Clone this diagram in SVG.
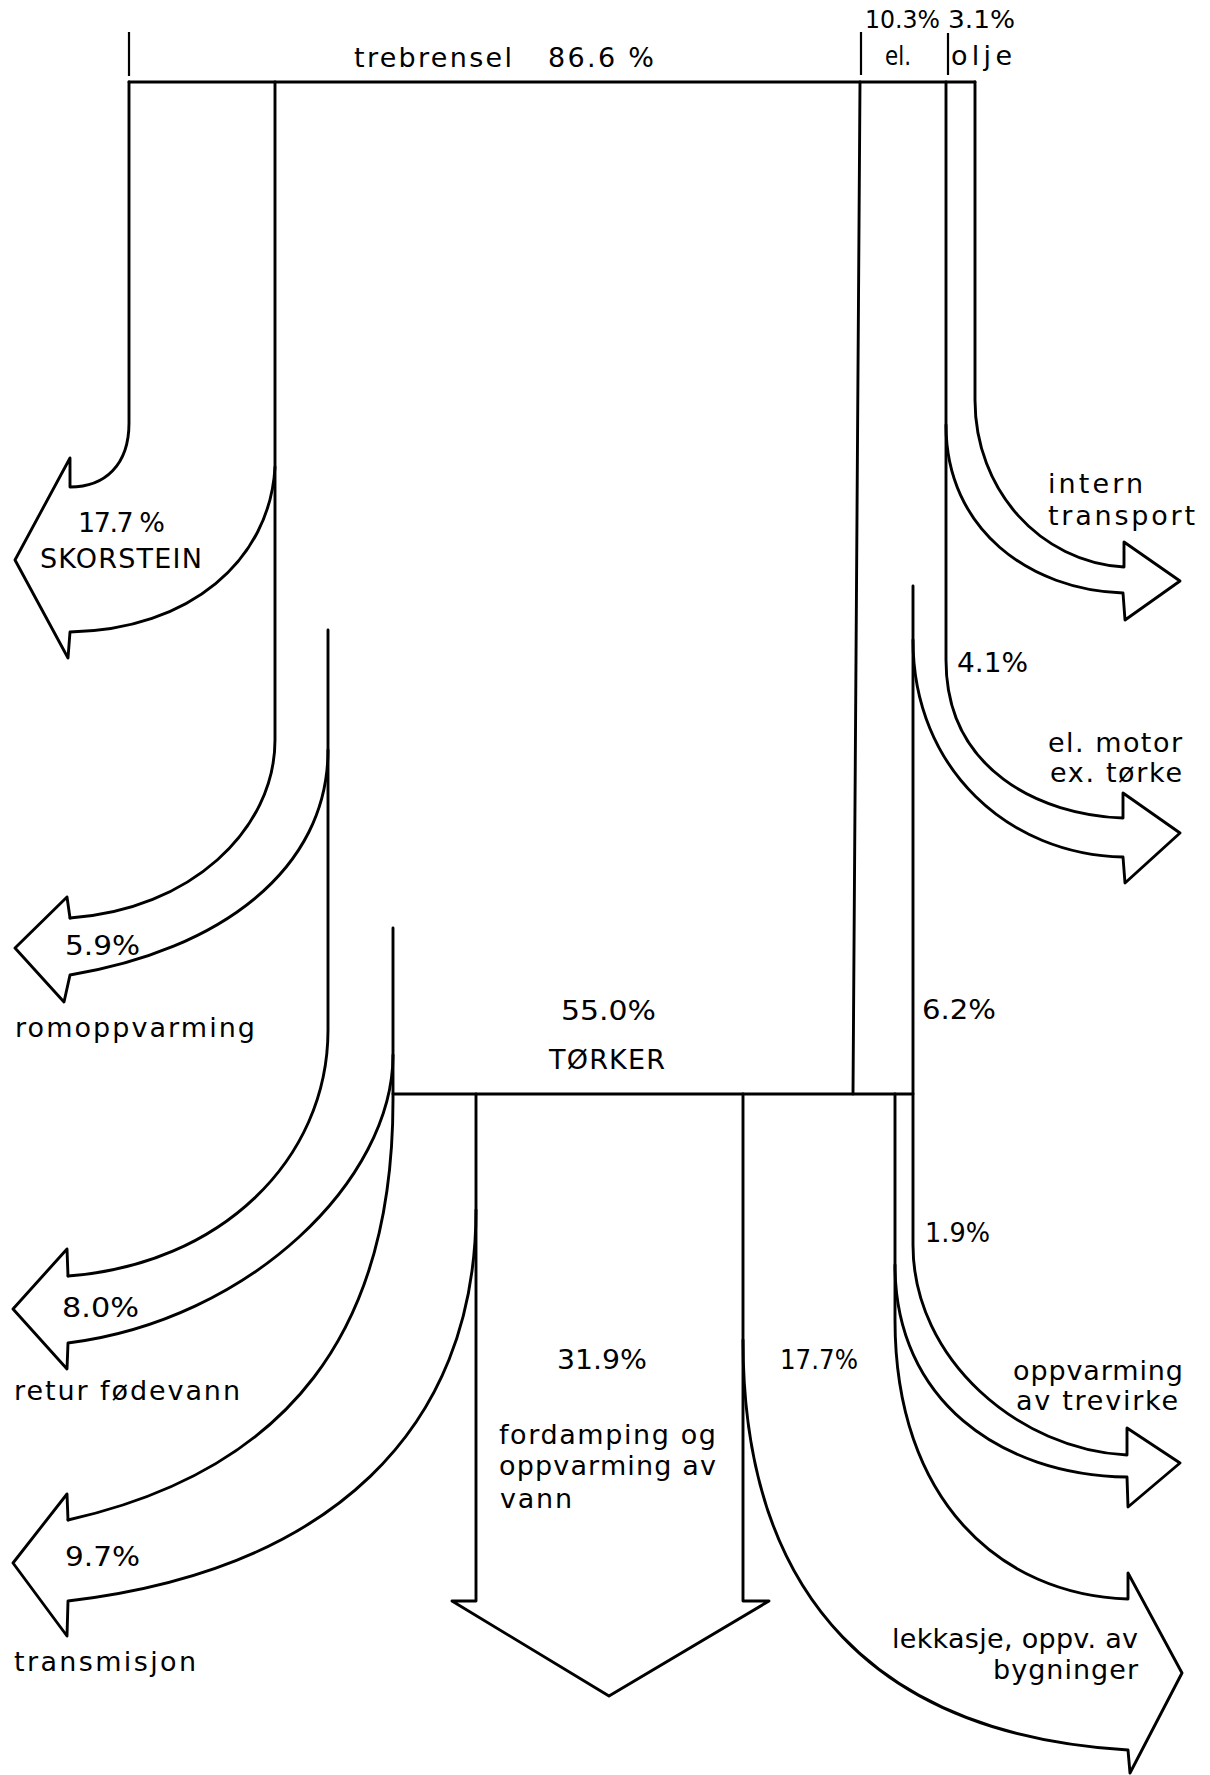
<svg xmlns="http://www.w3.org/2000/svg" width="1210" height="1775" viewBox="0 0 1210 1775">
<style>
.ln{fill:none;stroke:#000;stroke-width:2.9;stroke-linejoin:round;stroke-linecap:round}
.tk{fill:none;stroke:#000;stroke-width:2.2}
text{font-family:"DejaVu Sans","Liberation Sans",sans-serif;font-size:27px;fill:#000}
.sm{font-size:25px}
</style>
<rect width="1210" height="1775" fill="#fff"/>
<g id="inputs">
  <g id="input-trebrensel">
    <path class="tk" d="M129,32 V76"/>
    <text y="67"><tspan x="354" textLength="158" lengthAdjust="spacing">trebrensel</tspan><tspan x="548" textLength="106" lengthAdjust="spacing">86.6 %</tspan></text>
  </g>
  <g id="input-el">
    <path class="tk" d="M861,32 V75"/>
    <text class="sm" x="865" y="28" textLength="75" lengthAdjust="spacingAndGlyphs">10.3%</text>
    <text x="885" y="65" textLength="26" lengthAdjust="spacingAndGlyphs">el.</text>
  </g>
  <g id="input-olje">
    <path class="tk" d="M948,33 V75"/>
    <text class="sm" x="948" y="28" textLength="67" lengthAdjust="spacingAndGlyphs">3.1%</text>
    <text x="951" y="65" textLength="61" lengthAdjust="spacing">olje</text>
  </g>
</g>
<g id="connectors">
  <path id="top-line" class="ln" d="M129,82 L975,82"/>
  <path id="el-line" class="ln" d="M860,82 L853,1094"/>
  <path id="torker-bottom" class="ln" d="M393,1094 L913,1094"/>
  <path id="flow-skorstein" class="ln" d="M129,82 L129,423 C129,465 105,487 70,487 L70,458 L15,560 L68,658 L70,632 C190,630 270,560 275,467"/>
  <path id="line-275" class="ln" d="M275,82 L275,740 C275,830 190,910 70,918"/>
  <path id="flow-romoppvarming" class="ln" d="M70,918 L67,897 L15,948 L64,1002 L70,975 C220,950 328,870 328,750"/>
  <path id="line-328" class="ln" d="M328,630 L328,1030 C328,1160 220,1265 68,1276"/>
  <path id="flow-retur" class="ln" d="M68,1276 L67,1249 L13,1309 L67,1369 L68,1343 C250,1320 393,1180 393,1055"/>
  <path id="line-393" class="ln" d="M393,928 L393,1100 C393,1330 290,1470 68,1520"/>
  <path id="flow-transmisjon" class="ln" d="M68,1520 L67,1494 L13,1563 L67,1636 L68,1601 C330,1570 476,1430 476,1210"/>
  <path id="flow-fordamping" class="ln" d="M476,1094 L476,1601 L452,1601 L609,1696 L769,1601 L743,1601 L743,1094"/>
  <path id="flow-lekkasje" class="ln" d="M743,1340 C743,1600 880,1735 1128,1750 L1130,1773 L1182,1673 L1128,1573 L1128,1599 C1000,1595 895,1500 895,1320 L895,1094"/>
  <path id="flow-trevirke" class="ln" d="M895,1265 C895,1400 1000,1475 1127,1477 L1128,1507 L1180,1463 L1127,1428 L1127,1455 C1020,1450 913,1360 913,1245 L913,586"/>
  <path id="flow-elmotor" class="ln" d="M913,640 C913,770 1010,855 1123,857 L1125,883 L1180,833 L1123,793 L1123,818 C1040,815 946,770 946,660 L946,82"/>
  <path id="flow-intern" class="ln" d="M946,425 C946,530 1030,590 1123,593 L1125,620 L1180,581 L1124,542 L1124,567 C1040,562 975,490 975,400 L975,82"/>
</g>
<g id="node-torker">
  <text x="561" y="1020" textLength="95" lengthAdjust="spacingAndGlyphs">55.0%</text>
  <text x="549" y="1069" textLength="116" lengthAdjust="spacing">TØRKER</text>
</g>
<g id="node-skorstein">
  <text x="78" y="532" textLength="87" lengthAdjust="spacing">17.7 %</text>
  <text x="40" y="568" textLength="162" lengthAdjust="spacing">SKORSTEIN</text>
</g>
<g id="node-romoppvarming">
  <text x="65" y="955" textLength="75" lengthAdjust="spacingAndGlyphs">5.9%</text>
  <text x="15" y="1037" textLength="240" lengthAdjust="spacing">romoppvarming</text>
</g>
<g id="node-retur">
  <text x="62" y="1317" textLength="77" lengthAdjust="spacingAndGlyphs">8.0%</text>
  <text x="14" y="1400" textLength="226" lengthAdjust="spacing">retur fødevann</text>
</g>
<g id="node-transmisjon">
  <text x="65" y="1566" textLength="75" lengthAdjust="spacingAndGlyphs">9.7%</text>
  <text x="14" y="1671" textLength="182" lengthAdjust="spacing">transmisjon</text>
</g>
<g id="node-fordamping">
  <text x="557" y="1369" textLength="90" lengthAdjust="spacingAndGlyphs">31.9%</text>
  <text x="499" y="1444" textLength="217" lengthAdjust="spacing">fordamping og</text>
  <text x="499" y="1475" textLength="217" lengthAdjust="spacing">oppvarming av</text>
  <text x="500" y="1508" textLength="72" lengthAdjust="spacing">vann</text>
</g>
<g id="node-lekkasje">
  <text x="780" y="1369" textLength="78" lengthAdjust="spacingAndGlyphs">17.7%</text>
  <text x="892" y="1648" textLength="246" lengthAdjust="spacing">lekkasje, oppv. av</text>
  <text x="993" y="1679" textLength="145" lengthAdjust="spacing">bygninger</text>
</g>
<g id="node-trevirke">
  <text x="925" y="1242" textLength="65" lengthAdjust="spacingAndGlyphs">1.9%</text>
  <text x="1013" y="1380" textLength="170" lengthAdjust="spacing">oppvarming</text>
  <text x="1016" y="1410" textLength="162" lengthAdjust="spacing">av trevirke</text>
</g>
<g id="node-torker-el">
  <text x="922" y="1019" textLength="74" lengthAdjust="spacingAndGlyphs">6.2%</text>
</g>
<g id="node-elmotor">
  <text x="957" y="672" textLength="71" lengthAdjust="spacingAndGlyphs">4.1%</text>
  <text x="1048" y="752" textLength="134" lengthAdjust="spacing">el. motor</text>
  <text x="1050" y="782" textLength="132" lengthAdjust="spacing">ex. tørke</text>
</g>
<g id="node-intern">
  <text x="1048" y="493" textLength="95" lengthAdjust="spacing">intern</text>
  <text x="1048" y="525" textLength="147" lengthAdjust="spacing">transport</text>
</g>
</svg>
